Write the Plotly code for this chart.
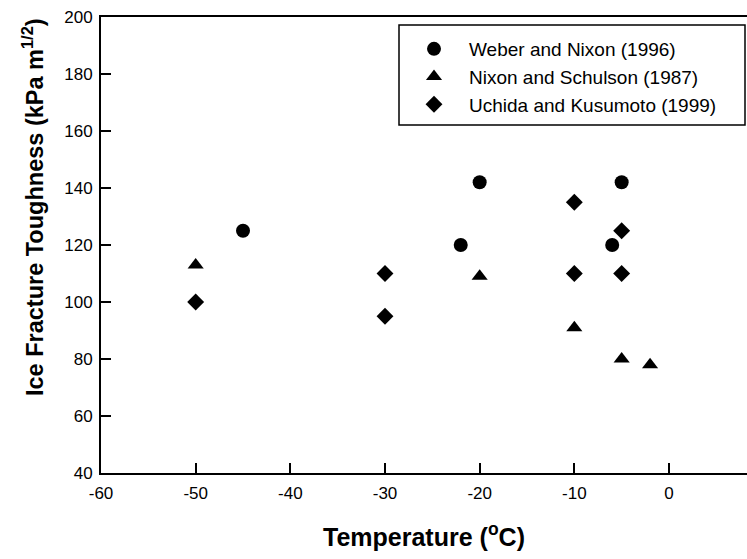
import plotly.graph_objects as go

# Data
weber_x = [-45, -22, -20, -6, -5]
weber_y = [125, 120, 142, 120, 142]

nixon_x = [-50, -20, -10, -5, -2]
nixon_y = [113, 109, 91, 80, 78]

uchida_x = [-50, -30, -30, -10, -10, -5, -5]
uchida_y = [100, 110, 95, 135, 110, 125, 110]

names = ["Weber and Nixon (1996)", "Nixon and Schulson (1987)", "Uchida and Kusumoto (1999)"]
x_ticks = [-60, -50, -40, -30, -20, -10, 0]
x_tick_text = ["-60", "-50", "-40", "-30", "-20", "-10", "0"]
y_ticks = [40, 60, 80, 100, 120, 140, 160, 180, 200]

W, H = 747, 559
L, R, T, B = 101, 0, 17, 86
FONT = "Liberation Sans, Arial, Helvetica, sans-serif"

fig = go.Figure()
fig.add_trace(go.Scatter(x=weber_x, y=weber_y, mode="markers", name=names[0],
                         marker=dict(symbol="circle", size=14, color="black")))
fig.add_trace(go.Scatter(x=nixon_x, y=nixon_y, mode="markers", name=names[1],
                         marker=dict(symbol="triangle-up", size=14, color="black")))
fig.add_trace(go.Scatter(x=uchida_x, y=uchida_y, mode="markers", name=names[2],
                         marker=dict(symbol="diamond", size=13, color="black")))

pw = W - L - R
ph = H - T - B

def px_x(p):
    return (p - L) / pw

def px_y(p):
    return (H - B - p) / ph

# legend box
fig.add_shape(type="rect", xref="paper", yref="paper",
              x0=px_x(399), x1=px_x(745), y0=px_y(125), y1=px_y(25),
              line=dict(color="black", width=1.5), fillcolor="rgba(0,0,0,0)")

# y-axis title (placed to match the reference position)
fig.add_annotation(text="<b>Ice Fracture Toughness (kPa m<sup>1/2</sup>)</b>",
                   textangle=-90, xref="paper", yref="paper",
                   x=px_x(33), y=px_y(207), xanchor="center", yanchor="middle",
                   showarrow=False, font=dict(size=23.5, family=FONT, color="black"))

fig.update_layout(
    width=W, height=H,
    margin=dict(l=L, r=R, t=T, b=B),
    paper_bgcolor="white", plot_bgcolor="white",
    font=dict(family=FONT, color="black", size=17),
    showlegend=True,
    legend=dict(x=px_x(399), y=px_y(30), xanchor="left", yanchor="top",
                bgcolor="rgba(0,0,0,0)", borderwidth=0,
                font=dict(size=19, family=FONT, color="black"),
                itemwidth=60, tracegroupgap=0),
    xaxis=dict(range=[-60, 8.24], tickvals=x_ticks, ticktext=x_tick_text,
               ticks="inside", ticklen=10,
               tickwidth=1.5, tickcolor="black", showline=True, linecolor="black",
               linewidth=2, mirror=True, showgrid=False, zeroline=False,
               tickfont=dict(size=17), ticklabelstandoff=4,
               title=dict(text="<b>Temperature (<sup>o</sup>C)</b>",
                          font=dict(size=25), standoff=26)),
    yaxis=dict(range=[40, 200], tickvals=y_ticks, ticks="inside", ticklen=10,
               tickwidth=1.5, tickcolor="black", showline=True, linecolor="black",
               linewidth=2, showgrid=False, zeroline=False,
               tickfont=dict(size=17), ticklabelstandoff=3),
)

fig.write_html("out.html", config={"displayModeBar": False},
               post_script="document.body.style.margin='0';")
